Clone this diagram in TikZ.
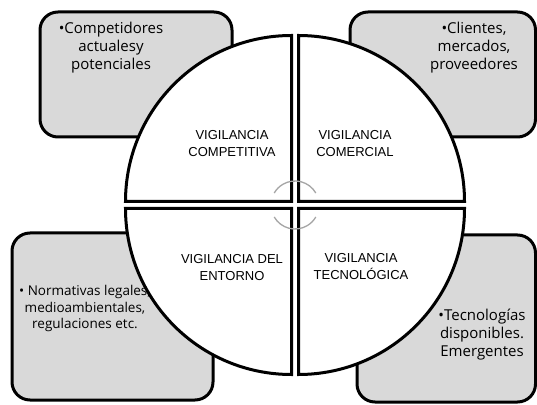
\documentclass[tikz,border=0pt]{standalone}
\usepackage{fontspec}
\setmainfont{Open Sans}
\newfontfamily\quadfont{Liberation Sans}
\definecolor{boxgray}{RGB}{217,217,217}
\definecolor{arcgray}{RGB}{165,165,165}
\begin{document}
\begin{tikzpicture}[x=1pt,y=1pt,
    infobox/.style={draw=black,line width=3pt,fill=boxgray,rounded corners=18pt},
    quadrant/.style={draw=black,line width=3pt,fill=white},
    quadlabel/.style={align=center,inner sep=0pt,font=\quadfont\fontsize{13}{17}\selectfont},
    boxtext/.style={align=center,inner sep=0pt,font=\fontsize{15}{18}\selectfont},
    turnarc/.style={draw=arcgray,line width=1.3pt}]
    \useasboundingbox (0,0) rectangle (537,404);
    \draw[infobox] (40,267) rectangle (232,392);
    \draw[infobox] (350,267) rectangle (535.5,392);
    \draw[infobox] (12,4) rectangle (213,171);
    \draw[infobox] (357,2) rectangle (535.5,169);
    \draw[quadrant] (291.5,202.5) -- (125.5,202.5) arc[start angle=180,end angle=90,radius=166] -- cycle;
    \draw[quadrant] (298.5,202.5) -- (298.5,368.5) arc[start angle=90,end angle=0,radius=166] -- cycle;
    \draw[quadrant] (291.5,195.5) -- (291.5,29.5) arc[start angle=270,end angle=180,radius=166] -- cycle;
    \draw[quadrant] (298.5,195.5) -- (464.5,195.5) arc[start angle=0,end angle=-90,radius=166] -- cycle;
    \draw[turnarc] (295,199) ++(30:24) arc[start angle=30,end angle=150,radius=24];
    \draw[turnarc] (295,199) ++(210:24) arc[start angle=210,end angle=330,radius=24];
    \node[quadlabel] (competitiva) at (232,260.5) {VIGILANCIA\\COMPETITIVA};
    \node[quadlabel] (comercial) at (355,260.5) {VIGILANCIA\\COMERCIAL};
    \node[quadlabel] (entorno) at (232,136.5) {VIGILANCIA DEL\\ENTORNO};
    \node[quadlabel] (tecnologica) at (361,137.5) {VIGILANCIA\\TECNOLÓGICA};
    \node[boxtext] (competidores) at (111,356.5) {•Competidores\\actualesy\\potenciales};
    \node[boxtext] (clientes) at (474,356.5) {•Clientes,\\mercados,\\proveedores};
    \node[boxtext,font=\fontsize{13.5}{16.5}\selectfont] (normativas) at (85,95.5) {• Normativas legales,\\medioambientales,\\regulaciones etc.};
    \node[boxtext] (tecnologias) at (482,69) {•Tecnologías\\disponibles.\\Emergentes};
\end{tikzpicture}
\end{document}
